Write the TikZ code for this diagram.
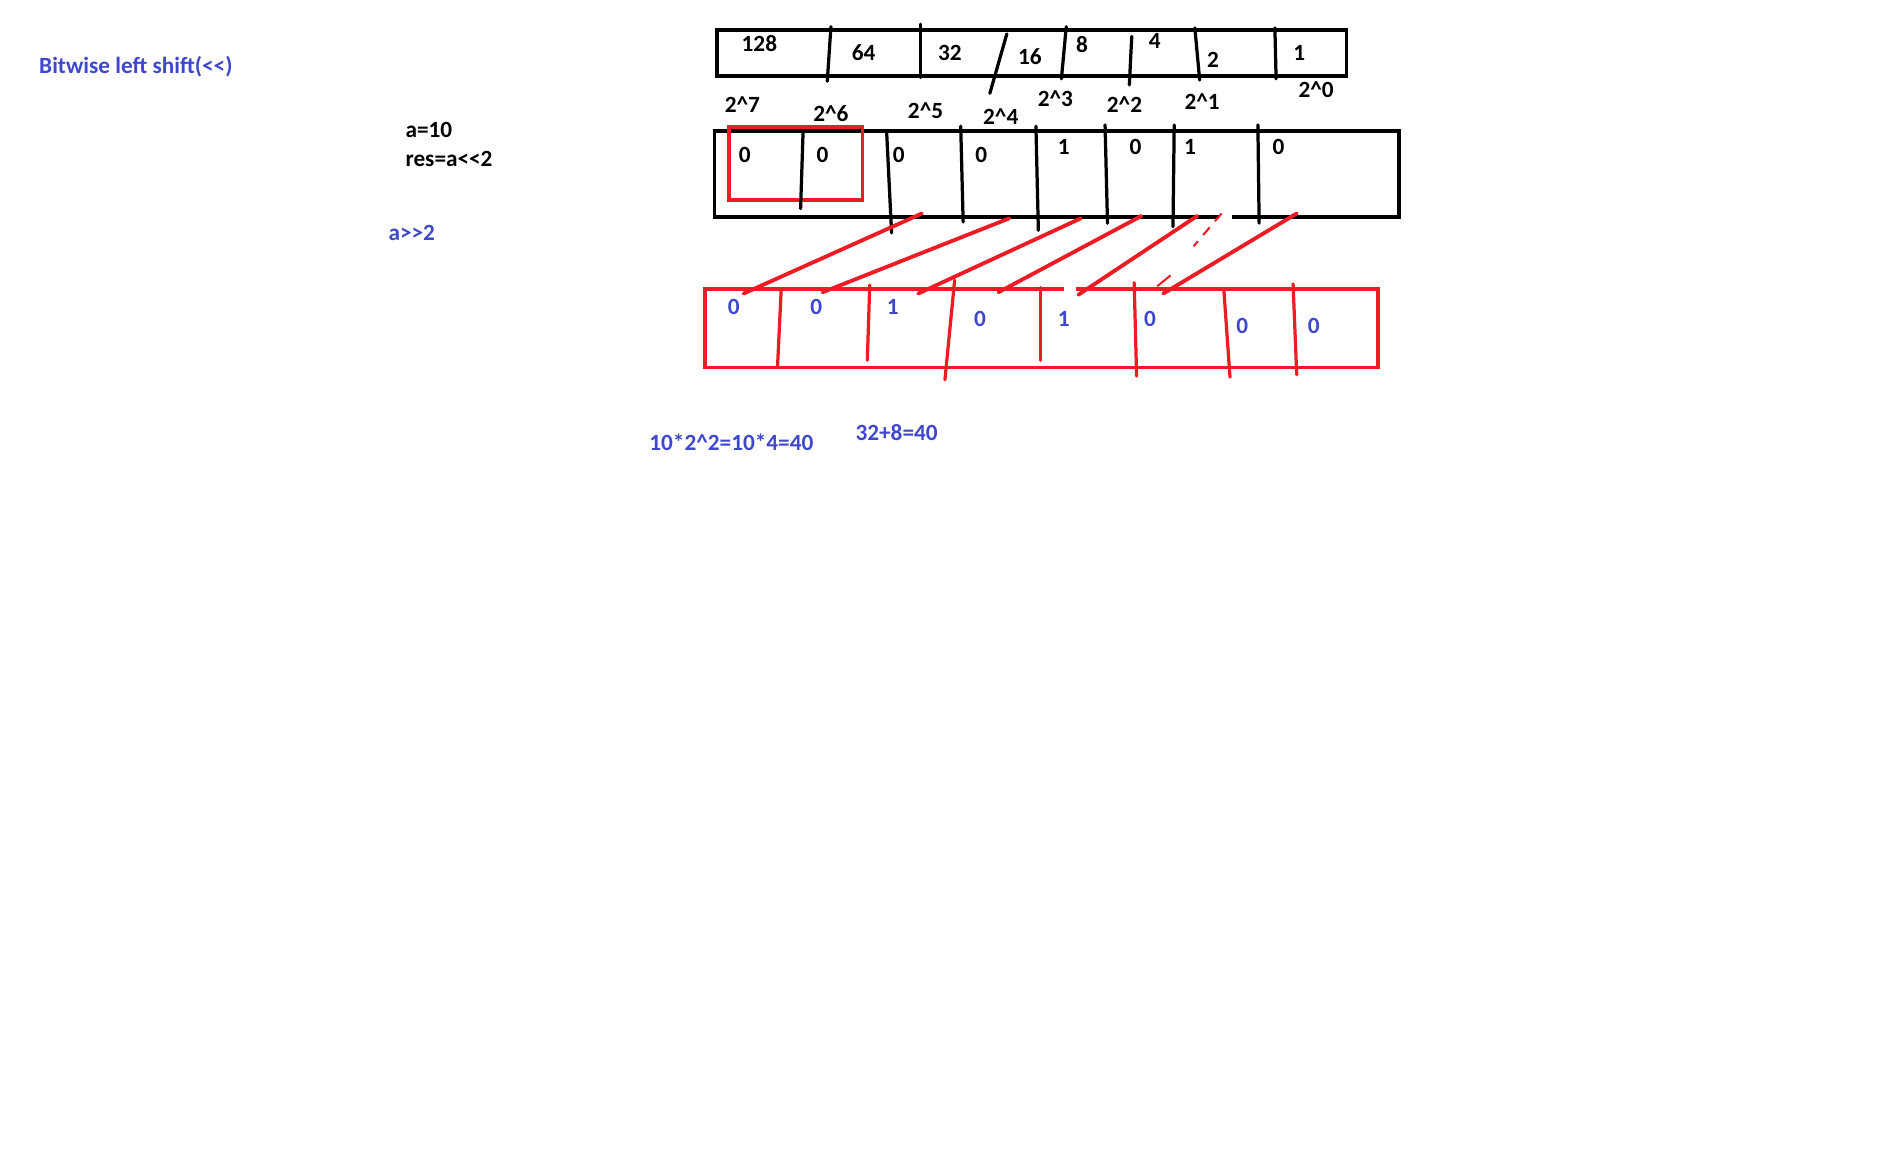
\documentclass[tikz,border=0pt]{standalone}
\usepackage{fontspec}
\setmainfont{Carlito}
\usetikzlibrary{positioning}
\definecolor{inkblue}{RGB}{63,72,204}
\definecolor{inkred}{RGB}{237,28,36}
\newcommand{\pw}[1]{2\textasciicircum#1}
\newcommand{\lsh}{<\kern0pt<}
\newcommand{\rsh}{>\kern0pt>}

\begin{document}
\begin{tikzpicture}[
  x=0.6pt, y=-0.6pt,
  boxline/.style={line width=1.9pt,draw=black},
  redbox/.style={line width=1.9pt,draw=inkred},
  divline/.style={line width=1.6pt,line cap=round},
  shiftline/.style={line width=1.9pt,draw=inkred,line cap=round},
  txt/.style={font=\fontsize{11.5}{13}\selectfont\bfseries,inner sep=0pt},
  bluetxt/.style={txt,text=inkblue},
]
\useasboundingbox (0,0) rectangle (1568,964);

% --- NOTES ---
\node[bluetxt,anchor=west] (title) at (32,55) {Bitwise left shift(\lsh)};
\node[txt,anchor=west] (aval) at (334,107) {a=10};
\node[txt,anchor=west] (res) at (334,131) {res=a\lsh2};
\node[bluetxt,anchor=west] (rshift) at (320,192) {a\rsh2};

% --- PLACE VALUES ---
\draw[boxline] (591,25) rectangle (1110,63);
\foreach \xa/\ya/\xb/\yb in {685/22/682/67,759/20/759/64,830/28/816/77,879/22/875/65,
    933/30/931/70,985/23/989/66,1051/23/1052/65}
  \draw[divline] (\xa,\ya) -- (\xb,\yb);
\foreach \x/\y/\t [count=\i] in {626/36/128,712/43/64,783/44/32,849/47/16,
    892/37/8,952/34/4,1000/49/2,1071/44/1}
  \node[txt] (val\i) at (\x,\y) {\t};
\foreach \x/\y/\p [count=\i] in {612/86/7,685/94/6,763/91/5,825/96/4,
    870/81/3,927/86/2,991/84/1,1085/74/0}
  \node[txt] (pow\i) at (\x,\y) {\pw{\p}};

% --- a = 10 ---
\draw[boxline] (589,108) rectangle (1153,179);
\draw[redbox] (601,105) rectangle (711,165);
\draw[white,line width=2.4pt] (1005,179) -- (1016,179);
\foreach \xa/\ya/\xb/\yb in {662/110/660/172,731/110/735/192,792/104/794/183,854/104/856/190,
    911/103/913/184,968/103/967/187,1037/103/1038/184}
  \draw[divline] (\xa,\ya) -- (\xb,\yb);
\foreach \x/\y/\t [count=\i] in {614/128/0,678/128/0,741/128/0,809/128/0,
    877/121/1,936/121/0,981/121/1,1054/121/0}
  \node[txt] (abit\i) at (\x,\y) {\t};

% --- RESULT ---
\draw[redbox] (581,238) rectangle (1136,303);
\draw[white,line width=2.4pt] (877,238) -- (887,238);
\foreach \xa/\ya/\xb/\yb in {644/239/641/302,717/235/715/297,787/231/779/313,858/237/858/297,
    935/233/937/310,1009/240/1014/311,1066/234/1069/309}
  \draw[divline,draw=inkred] (\xa,\ya) -- (\xb,\yb);
\foreach \x/\y/\t [count=\i] in {605/253/0,673/253/0,736/253/1,808/263/0,
    877/263/1,948/263/0,1024/269/0,1083/269/0}
  \node[bluetxt] (rbit\i) at (\x,\y) {\t};

% shift lines
\foreach \xa/\ya/\xb/\yb [count=\i] in {760/176/613/242,832/180/678/241,891/180/757/242,
    941/178/823/241,987/178/889/243,1069/176/959/242} {
  \coordinate (src\i) at (\xa,\ya);
  \coordinate (dst\i) at (\xb,\yb);
  \draw[shiftline] (src\i) -- (dst\i);
}
\draw[inkred,line width=1pt,dash pattern=on 5pt off 4pt] (1007,176) -- (984,203);
\draw[inkred,line width=1pt] (965,227) -- (954,236);

% --- SUMS ---
\node[bluetxt,anchor=west] (prod) at (535,365) {10*\pw{2}=10*4=40};
\node[bluetxt,anchor=west] (sum) at (705,357) {32+8=40};

\end{tikzpicture}
\end{document}
